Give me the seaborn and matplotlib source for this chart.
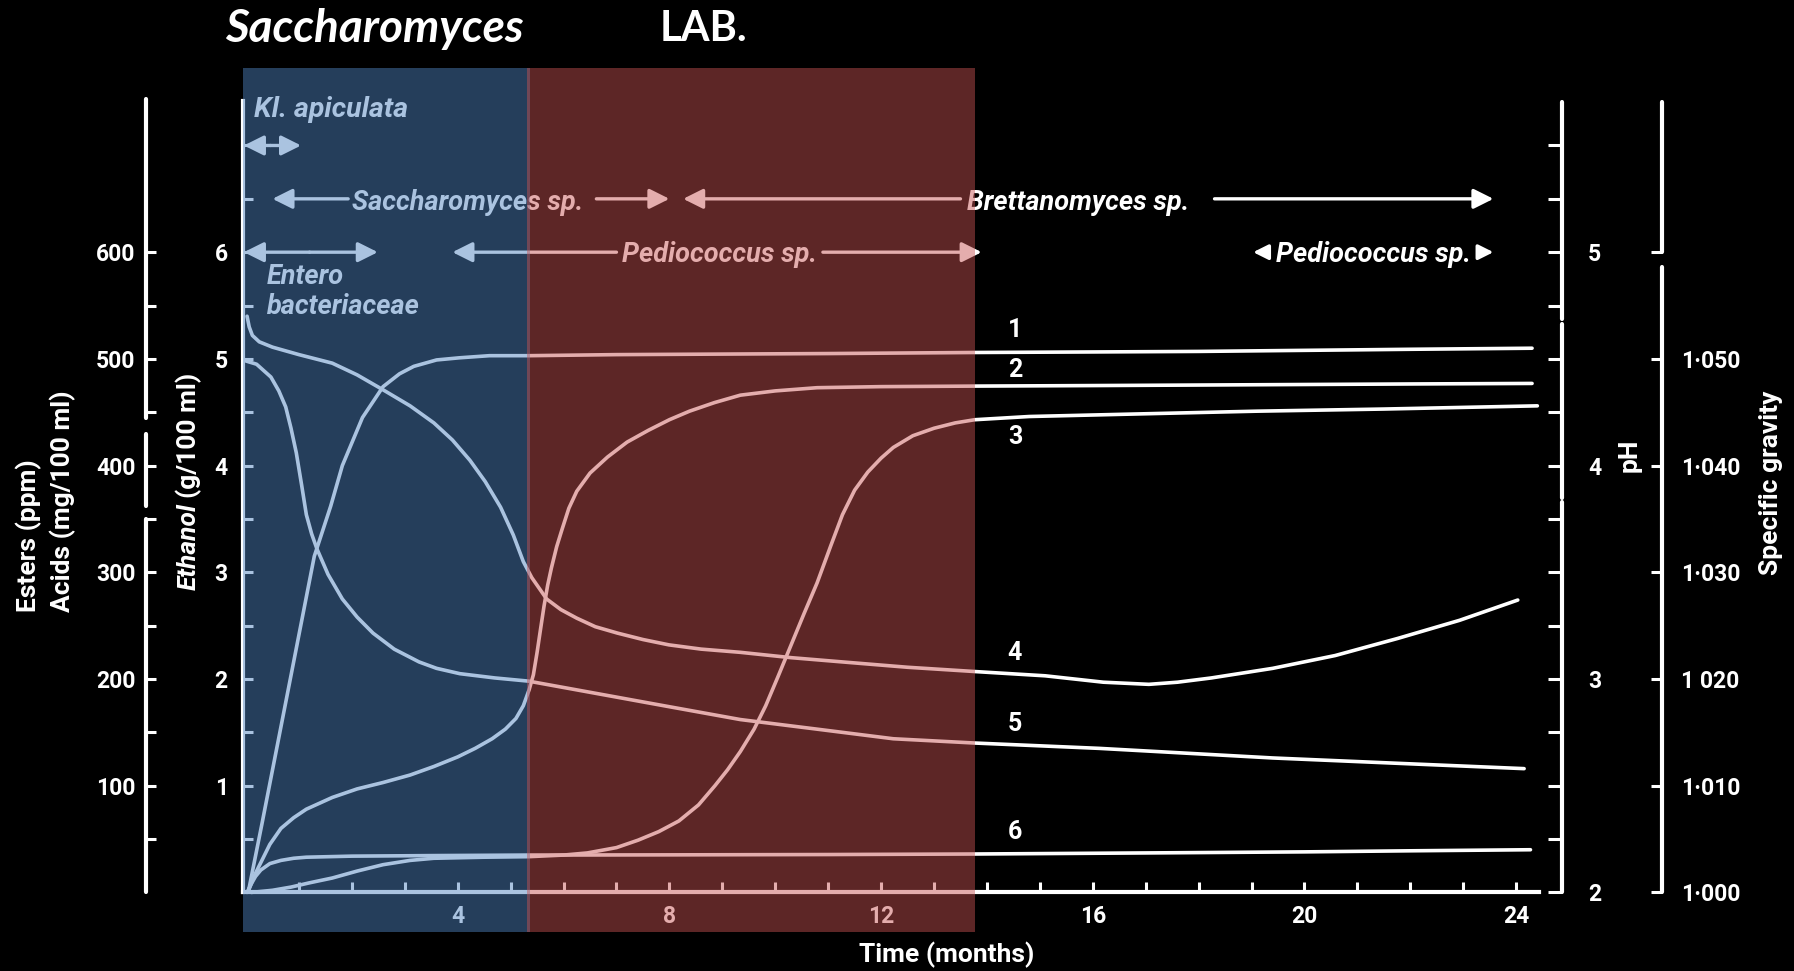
import numpy as np
import pandas as pd
import matplotlib
matplotlib.use("Agg")
import matplotlib.pyplot as plt
import matplotlib.ticker as mticker
import seaborn as sns
from matplotlib import font_manager

# === 1) Data: time in months, values on the ethanol scale (g/100 ml) =========
# the other scales are tied to it: esters = 100*v, pH = 2 + v/2, SG = 1 + v/100
c1_month = [0.05, 0.3, 0.6, 0.9, 1.29, 1.6, 1.82, 2.2, 2.59, 2.9, 3.17, 3.6,
            4.03, 4.6, 5.34, 7.0, 9.0, 11.0, 13.77, 16.0, 18.0, 20.0, 22.0, 24.3]
c1_value = [0.02, 0.64, 1.4, 2.16, 3.15, 3.62, 4.0, 4.45, 4.74, 4.86, 4.93, 4.99,
            5.01, 5.03, 5.03, 5.04, 5.045, 5.05, 5.06, 5.065, 5.07, 5.08, 5.09, 5.10]

c2_month = [0.05, 0.15, 0.28, 0.45, 0.66, 0.9, 1.14, 1.63, 2.1, 2.59, 3.1, 3.55,
            4.0, 4.33, 4.65, 4.9, 5.1, 5.24, 5.35, 5.43, 5.5, 5.56, 5.63, 5.7,
            5.77, 5.87, 5.97, 6.1, 6.25, 6.5, 6.83, 7.2, 7.6, 8.0, 8.38, 8.85,
            9.34, 10.0, 10.79, 12.0, 13.77, 16.0, 18.0, 20.0, 22.0, 24.3]
c2_value = [0.02, 0.15, 0.28, 0.45, 0.60, 0.70, 0.78, 0.89, 0.97, 1.03, 1.10, 1.18,
            1.27, 1.35, 1.44, 1.53, 1.63, 1.75, 1.90, 2.04, 2.25, 2.45, 2.68, 2.88,
            3.04, 3.24, 3.40, 3.60, 3.76, 3.93, 4.08, 4.22, 4.33, 4.43, 4.51, 4.59,
            4.66, 4.70, 4.73, 4.74, 4.745, 4.75, 4.755, 4.76, 4.765, 4.77]

c3_month = [0.1, 0.5, 0.85, 1.2, 1.63, 2.1, 2.59, 3.1, 3.55, 4.5, 5.34, 6.0, 6.45,
            7.0, 7.41, 7.8, 8.18, 8.55, 8.86, 9.1, 9.34, 9.6, 9.82, 10.05, 10.3,
            10.55, 10.79, 11.05, 11.27, 11.5, 11.75, 12.0, 12.23, 12.6, 13.0, 13.4,
            13.77, 14.8, 16.5, 19.1, 21.5, 24.4]
c3_value = [0.0, 0.02, 0.05, 0.09, 0.135, 0.2, 0.26, 0.3, 0.32, 0.33, 0.335, 0.35,
            0.37, 0.42, 0.49, 0.57, 0.67, 0.82, 1.0, 1.15, 1.32, 1.53, 1.75, 2.02,
            2.32, 2.62, 2.90, 3.25, 3.54, 3.77, 3.94, 4.07, 4.17, 4.28, 4.35, 4.40,
            4.43, 4.46, 4.48, 4.51, 4.53, 4.56]

c4_month = [0.02, 0.06, 0.12, 0.25, 0.5, 1.0, 1.63, 2.1, 2.59, 3.1, 3.55, 3.9,
            4.23, 4.52, 4.81, 5.05, 5.24, 5.4, 5.68, 5.95, 6.25, 6.6, 7.02, 7.5,
            7.99, 8.6, 9.34, 10.3, 11.27, 12.5, 13.77, 15.1, 16.2, 17.06, 17.6,
            18.24, 19.4, 20.58, 21.76, 22.93, 24.03]
c4_value = [5.40, 5.30, 5.22, 5.16, 5.11, 5.04, 4.96, 4.85, 4.71, 4.56, 4.40, 4.24,
            4.05, 3.85, 3.61, 3.35, 3.10, 2.95, 2.75, 2.65, 2.57, 2.49, 2.43, 2.37,
            2.32, 2.28, 2.25, 2.20, 2.16, 2.11, 2.07, 2.03, 1.97, 1.95, 1.97,
            2.01, 2.10, 2.22, 2.38, 2.55, 2.74]

c5_month = [0.0, 0.2, 0.47, 0.62, 0.75, 0.85, 0.95, 1.05, 1.14, 1.24, 1.34, 1.55,
            1.82, 2.1, 2.4, 2.8, 3.27, 3.6, 4.04, 4.7, 5.34, 6.45, 7.89, 9.34,
            10.79, 12.23, 13.77, 16.12, 19.4, 21.76, 24.15]
c5_value = [4.98, 4.95, 4.83, 4.70, 4.55, 4.35, 4.12, 3.82, 3.54, 3.36, 3.22, 2.98,
            2.75, 2.58, 2.43, 2.28, 2.16, 2.10, 2.05, 2.01, 1.98, 1.88, 1.75, 1.62,
            1.53, 1.44, 1.40, 1.35, 1.26, 1.21, 1.16]

c6_month = [0.02, 0.1, 0.18, 0.28, 0.45, 0.66, 0.9, 1.14, 2.0, 3.5, 5.34, 8.0,
            11.0, 13.77, 17.0, 20.0, 22.0, 24.27]
c6_value = [0.0, 0.08, 0.15, 0.21, 0.27, 0.30, 0.32, 0.33, 0.34, 0.345, 0.35, 0.352,
            0.355, 0.36, 0.37, 0.38, 0.39, 0.40]

curve_names = ["1", "2", "3", "4", "5", "6"]

month_ticks = [4, 8, 12, 16, 20, 24]
ethanol_ticks = [1, 2, 3, 4, 5, 6]
ester_ticks = [100, 200, 300, 400, 500, 600]
ph_ticks = [2, 3, 4, 5]
sg_ticks = [1.000, 1.010, 1.020, 1.030, 1.040, 1.050]
sg_labels = ["1·000", "1·010", "1 020", "1·030", "1·040", "1·050"]

# organisms: periods in months
kl_period = (-0.04, 1.04)
sacch_period = (0.5, 8.0)
brett_period = (8.26, 23.57)
entero_period = (-0.04, 2.49)
pedio_period = (3.9, 13.9)
pedio_late_period = (19.03, 23.57)

# phases shaded at the top: Saccharomyces (blue) then LAB (red)
sacch_phase = (-0.06, 5.37)
lab_phase = (5.31, 13.77)

# === 2) Style ==============================================================
sns.set_theme(style="ticks", rc={"figure.facecolor": "black",
                                 "axes.facecolor": "black",
                                 "savefig.facecolor": "black"})
names = {f.name for f in font_manager.fontManager.ttflist}
narrow = next((n for n in ["Liberation Sans Narrow", "Roboto"] if n in names),
              "DejaVu Sans")
plt.rcParams["font.family"] = [narrow, "DejaVu Sans"]
plt.rcParams["text.color"] = "white"
plt.rcParams["xtick.color"] = "white"
plt.rcParams["ytick.color"] = "white"

fig = plt.figure(figsize=(17.94, 9.71), dpi=100)
ax = fig.add_axes([0.13545, 0.04016, 0.72297, 0.88980])
ax.set_xlim(-0.057, 24.45)
ax.set_ylim(-0.371, 7.726)

# === 3) Curves =============================================================
frames = []
for name, t, v in zip(curve_names,
                      [c1_month, c2_month, c3_month, c4_month, c5_month, c6_month],
                      [c1_value, c2_value, c3_value, c4_value, c5_value, c6_value]):
    frames.append(pd.DataFrame({"month": t, "value": v, "curve": name}))
df = pd.concat(frames, ignore_index=True)

sns.lineplot(data=df, x="month", y="value", units="curve", estimator=None,
             sort=False, color="white", lw=2.6, ax=ax, legend=False)
ax.set_xlabel("")
ax.set_ylabel("")

label_y = {"1": 5.27, "2": 4.90, "3": 4.27, "4": 2.24, "5": 1.58, "6": 0.57}
for name in curve_names:
    ax.text(14.53, label_y[name], name, ha="center", va="center",
            fontsize=18, fontweight="bold", color="white")

# === 4) Organism arrows ====================================================
def arrow(tail, head, y, ms=20):
    ax.annotate("", xy=(head, y), xytext=(tail, y),
                arrowprops=dict(arrowstyle="-|>,head_length=0.6,head_width=0.3",
                                color="white", lw=2.4, mutation_scale=ms,
                                shrinkA=0, shrinkB=0))

it = dict(fontsize=19.5, fontstyle="italic", fontweight="bold", color="white",
          va="center")

ax.text(0.15, 7.34, "Kl. apiculata", ha="left", **dict(it, fontsize=20.5))
arrow(kl_period[0] + 0.5, kl_period[0], 7.0)
arrow(kl_period[0] + 0.5, kl_period[1], 7.0)

arrow(1.93, sacch_period[0], 6.5)
ax.text(2.0, 6.47, "Saccharomyces sp.", ha="left", **it)
arrow(6.62, sacch_period[1], 6.5)

arrow(13.5, brett_period[0], 6.5)
ax.text(13.62, 6.47, "Brettanomyces sp.", ha="left", **it)
arrow(18.3, brett_period[1], 6.5)

arrow(1.2, entero_period[0], 6.0)
arrow(1.2, entero_period[1], 6.0)
ax.text(0.39, 5.77, "Entero", ha="left", **it)
ax.text(0.39, 5.49, "bacteriaceae", ha="left", **it)

arrow(7.0, pedio_period[0], 6.0)
ax.text(7.1, 5.98, "Pediococcus sp.", ha="left", **it)
arrow(10.9, pedio_period[1], 6.0)

arrow(19.3, pedio_late_period[0], 6.0, ms=15)
ax.text(21.3, 5.98, "Pediococcus sp.", ha="center", **it)
arrow(23.3, pedio_late_period[1], 6.0, ms=15)

# === 5) Shaded phases (drawn over everything, like a tinted overlay) =======
ax.axvspan(max(sacch_phase[0], ax.get_xlim()[0]), sacch_phase[1],
           color="#4F83C0", alpha=0.48, lw=0, zorder=10)
ax.axvspan(lab_phase[0], lab_phase[1], color="#C65252", alpha=0.475, lw=0, zorder=10)

# === 6) Axes ===============================================================
tick_kw = dict(colors="white", width=2.2, labelsize=16.5)
spine_kw = dict(color="white", lw=3, solid_capstyle="round", clip_on=False)
ytr = ax.get_yaxis_transform()

for s in ["top", "right"]:
    ax.spines[s].set_visible(False)
ax.spines["left"].set_bounds(0, 7.42)
ax.spines["bottom"].set_position(("data", 0))
ax.spines["bottom"].set_bounds(-0.057, 24.43)
for s in ["left", "bottom"]:
    ax.spines[s].set_color("white")
    ax.spines[s].set_linewidth(3)

ax.xaxis.set_major_locator(mticker.FixedLocator(month_ticks))
ax.xaxis.set_minor_locator(mticker.FixedLocator(np.arange(1, 25)))
ax.tick_params(axis="x", which="both", direction="in", length=7, pad=9, **tick_kw)
for lab in ax.get_xticklabels():
    lab.set_fontweight("bold")

ax.yaxis.set_major_locator(mticker.FixedLocator(ethanol_ticks))
ax.yaxis.set_minor_locator(mticker.FixedLocator(np.arange(0.5, 7.01, 0.5)))
ax.tick_params(axis="y", which="both", direction="in", length=7, pad=11, **tick_kw)
for lab in ax.get_yticklabels():
    lab.set_fontweight("bold")

# esters / acids scale
ax_es = ax.twinx()
ax_es.set_ylim(np.array(ax.get_ylim()) * 100)
for s in ax_es.spines.values():
    s.set_visible(False)
ax_es.spines["left"].set_position(("axes", -0.0745))
ax_es.yaxis.set_ticks_position("left")
ax_es.yaxis.set_major_locator(mticker.FixedLocator(ester_ticks))
ax_es.yaxis.set_minor_locator(mticker.FixedLocator(np.arange(50, 600, 100)))
ax_es.tick_params(axis="y", which="both", direction="in", length=7, pad=8, **tick_kw)
for a, b in [(0, 3.50), (3.62, 4.30), (4.45, 7.44)]:
    ax.plot([-0.0745, -0.0745], [a, b], transform=ytr, **spine_kw)

# pH scale
ax_ph = ax.twinx()
ax_ph.set_ylim(2 + np.array(ax.get_ylim()) / 2)
for s in ax_ph.spines.values():
    s.set_visible(False)
ax_ph.spines["right"].set_position(("axes", 1.0167))
ax_ph.yaxis.set_major_locator(mticker.FixedLocator(ph_ticks))
ax_ph.yaxis.set_minor_locator(mticker.FixedLocator(np.arange(2.25, 5.51, 0.25)))
ax_ph.tick_params(axis="y", which="both", direction="in", length=10, pad=19, **tick_kw)
for a, b in [(0, 3.66), (3.70, 5.33), (5.37, 7.41)]:
    ax.plot([1.0167, 1.0167], [a, b], transform=ytr, **spine_kw)

# specific gravity scale
ax_sg = ax.twinx()
ax_sg.set_ylim(1 + np.array(ax.get_ylim()) / 100)
for s in ax_sg.spines.values():
    s.set_visible(False)
ax_sg.spines["right"].set_position(("axes", 1.0939))
ax_sg.yaxis.set_major_locator(mticker.FixedLocator(sg_ticks))
ax_sg.yaxis.set_major_formatter(mticker.FixedFormatter(sg_labels))
ax_sg.yaxis.set_minor_locator(mticker.FixedLocator([1.060]))
ax_sg.tick_params(axis="y", which="both", direction="in", length=8, pad=14, **tick_kw)
for a, b in [(0, 5.86), (6.0, 7.41)]:
    ax.plot([1.0939, 1.0939], [a, b], transform=ytr, **spine_kw)

for a_ in (ax_es, ax_ph, ax_sg):
    for lab in a_.get_yticklabels():
        lab.set_fontweight("bold")

# === 7) Labels =============================================================
lab_kw = dict(fontsize=19, fontweight="bold", color="white", rotation=90)
fig.text(0.0159, 0.3697, "Esters (ppm)", ha="center", va="bottom", **lab_kw)
fig.text(0.0351, 0.3697, "Acids (mg/100 ml)", ha="center", va="bottom", **lab_kw)
fig.text(0.1052, 0.482, "Ethanol", ha="center", va="top", fontstyle="italic", **lab_kw)
fig.text(0.1052, 0.487, "(g/100 ml)", ha="center", va="bottom", **lab_kw)
fig.text(0.9086, 0.5314, "pH", ha="center", va="center", **lab_kw)
fig.text(0.9872, 0.5026, "Specific gravity", ha="center", va="center", **lab_kw)
fig.text(0.5279, 0.0165, "Time (months)", ha="center", va="center",
         fontsize=19, fontweight="bold", color="white")

fig.text(0.1254, 0.9705, "Saccharomyces", ha="left", va="center", fontsize=33,
         fontweight="bold", fontstyle="italic", family=["Lato", "DejaVu Sans"])
fig.text(0.3679, 0.9705, "LAB.", ha="left", va="center", fontsize=30,
         fontweight="bold", family=["Lato", "DejaVu Sans"])

fig.savefig("out.png", dpi=100, facecolor="black")
